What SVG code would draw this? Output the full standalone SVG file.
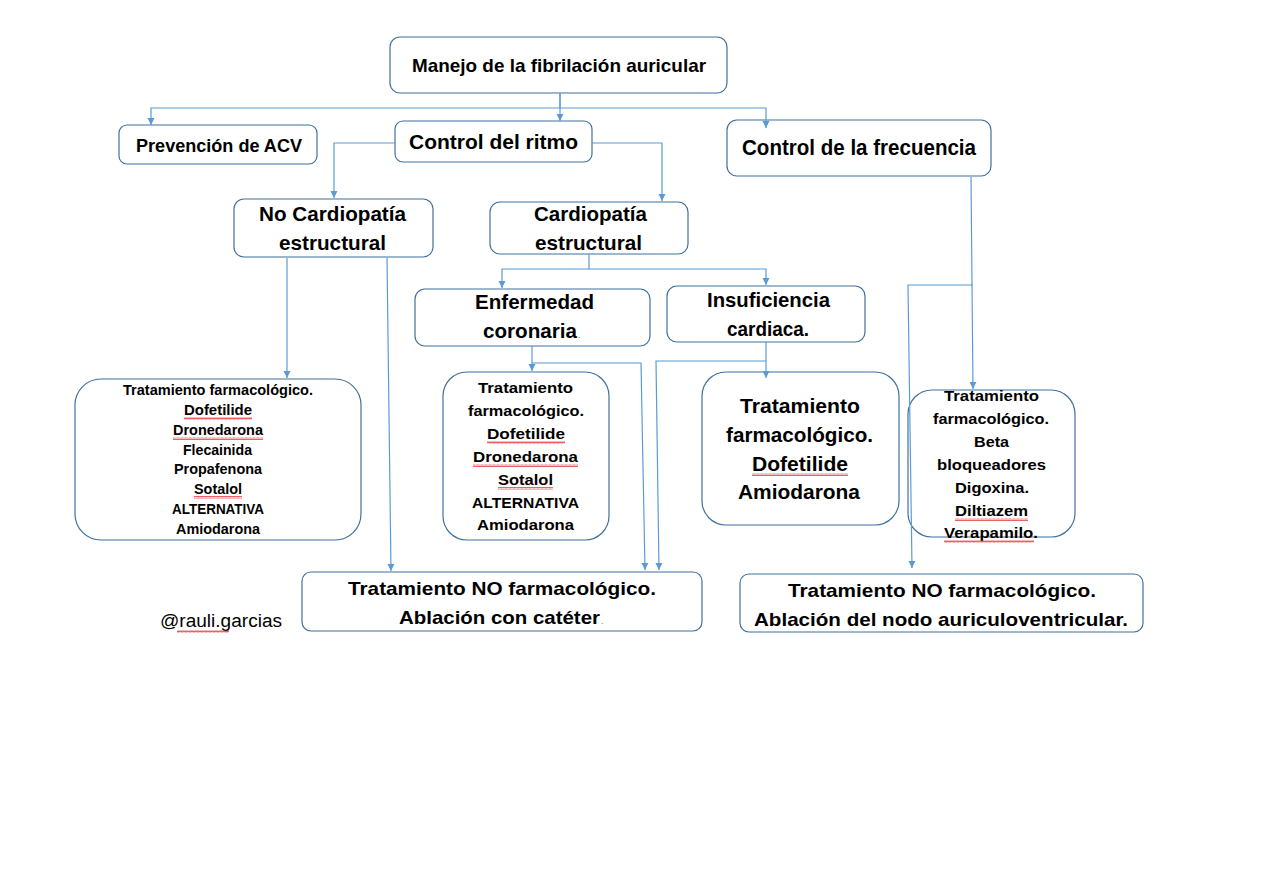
<svg xmlns="http://www.w3.org/2000/svg" width="1274" height="880" viewBox="0 0 1274 880">
<style>
.box{fill:#fff;stroke:#41719C;stroke-width:1.2}
.t{font-family:"Liberation Sans",Arial,sans-serif;font-weight:bold;fill:#000}
.c{fill:none;stroke:#5B9BD5;stroke-width:1.2;marker-end:url(#ah)}
.sq{fill:url(#squig)}
.dot{font-family:"Liberation Sans",Arial,sans-serif;fill:#777;font-size:9px}
</style>
<defs>
<marker id="ah" markerUnits="userSpaceOnUse" markerWidth="8" markerHeight="8" refX="7" refY="4" orient="auto">
<path d="M0,0.5 L7,4 L0,7.5 Z" fill="#5B9BD5"/>
</marker>
<pattern id="squig" patternUnits="userSpaceOnUse" width="4" height="3">
<path d="M0,2.5 L1,0.5 L2,2.5 L3,0.5 L4,2.5" fill="none" stroke="#e02020" stroke-width="0.7"/>
</pattern>
</defs>
<rect width="1274" height="880" fill="#fff"/>

<g id="root">
<rect class="box" x="390" y="37" width="337" height="56" rx="10"/>
<text class="t" font-size="18.5" x="412" y="72" textLength="294" lengthAdjust="spacingAndGlyphs">Manejo de la fibrilación auricular</text>
</g>

<g id="prevencion">
<rect class="box" x="119" y="125" width="198" height="39" rx="8"/>
<text class="t" font-size="19" x="136" y="152" textLength="166" lengthAdjust="spacingAndGlyphs">Prevención de ACV</text>
</g>

<g id="ritmo">
<rect class="box" x="395" y="121" width="197" height="41" rx="8"/>
<text class="t" font-size="21" x="409" y="149" textLength="169" lengthAdjust="spacingAndGlyphs">Control del ritmo</text>
</g>

<g id="frecuencia">
<rect class="box" x="727" y="120" width="264" height="56" rx="10"/>
<text class="t" font-size="21.5" x="742" y="155" textLength="234" lengthAdjust="spacingAndGlyphs">Control de la frecuencia</text>
</g>

<g id="no-cardiopatia">
<rect class="box" x="234" y="199" width="199" height="58" rx="10"/>
<text class="t" font-size="20.5" x="259" y="221" textLength="147" lengthAdjust="spacingAndGlyphs">No Cardiopatía</text>
<text class="t" font-size="20.5" x="279" y="250" textLength="107" lengthAdjust="spacingAndGlyphs">estructural</text>
</g>

<g id="cardiopatia">
<rect class="box" x="490" y="202" width="198" height="52" rx="10"/>
<text class="t" font-size="20.5" x="534" y="221" textLength="113" lengthAdjust="spacingAndGlyphs">Cardiopatía</text>
<text class="t" font-size="20.5" x="535" y="250" textLength="107" lengthAdjust="spacingAndGlyphs">estructural</text>
</g>

<g id="enfermedad">
<rect class="box" x="415" y="289" width="235" height="57" rx="10"/>
<text class="t" font-size="20.5" x="475" y="309" textLength="119" lengthAdjust="spacingAndGlyphs">Enfermedad</text>
<text class="t" font-size="20.5" x="483" y="338" textLength="94" lengthAdjust="spacingAndGlyphs">coronaria</text>
<text class="dot" x="578" y="338">.</text>
</g>

<g id="insuficiencia">
<rect class="box" x="667" y="286" width="198" height="56" rx="10"/>
<text class="t" font-size="20.5" x="707" y="307" textLength="123" lengthAdjust="spacingAndGlyphs">Insuficiencia</text>
<text class="t" font-size="20.5" x="727" y="336" textLength="82" lengthAdjust="spacingAndGlyphs">cardiaca.</text>
</g>

<g id="tto-no-cardiopatia">
<rect class="box" x="75" y="379" width="286" height="161" rx="26"/>
<text class="t" font-size="14" x="123" y="395" textLength="190" lengthAdjust="spacingAndGlyphs">Tratamiento farmacológico.</text>
<text class="t" font-size="14" x="184" y="415" textLength="68" lengthAdjust="spacingAndGlyphs">Dofetilide</text>
<text class="t" font-size="14" x="173" y="435" textLength="90" lengthAdjust="spacingAndGlyphs">Dronedarona</text>
<text class="t" font-size="14" x="183" y="455" textLength="69" lengthAdjust="spacingAndGlyphs">Flecainida</text>
<text class="t" font-size="14" x="174" y="474" textLength="88" lengthAdjust="spacingAndGlyphs">Propafenona</text>
<text class="t" font-size="14" x="194" y="494" textLength="48" lengthAdjust="spacingAndGlyphs">Sotalol</text>
<text class="t" font-size="14" x="172" y="514" textLength="92" lengthAdjust="spacingAndGlyphs">ALTERNATIVA</text>
<text class="t" font-size="14" x="176" y="534" textLength="84" lengthAdjust="spacingAndGlyphs">Amiodarona</text>
<rect class="sq" x="184" y="417" width="68" height="3"/>
<rect class="sq" x="173" y="437" width="90" height="3"/>
<rect class="sq" x="194" y="496" width="48" height="3"/>
</g>

<g id="tto-coronaria">
<rect class="box" x="443" y="372" width="166" height="168" rx="24"/>
<text class="t" font-size="15" x="478" y="393" textLength="95" lengthAdjust="spacingAndGlyphs">Tratamiento</text>
<text class="t" font-size="15" x="468" y="416" textLength="116" lengthAdjust="spacingAndGlyphs">farmacológico.</text>
<text class="t" font-size="15" x="487" y="439" textLength="78" lengthAdjust="spacingAndGlyphs">Dofetilide</text>
<text class="t" font-size="15" x="473" y="462" textLength="105" lengthAdjust="spacingAndGlyphs">Dronedarona</text>
<text class="t" font-size="15" x="498" y="485" textLength="55" lengthAdjust="spacingAndGlyphs">Sotalol</text>
<text class="t" font-size="15" x="472" y="508" textLength="107" lengthAdjust="spacingAndGlyphs">ALTERNATIVA</text>
<text class="t" font-size="15" x="477" y="530" textLength="97" lengthAdjust="spacingAndGlyphs">Amiodarona</text>
<rect class="sq" x="487" y="441" width="78" height="3"/>
<rect class="sq" x="473" y="464" width="105" height="3"/>
<rect class="sq" x="498" y="487" width="55" height="3"/>
</g>

<g id="tto-insuficiencia">
<rect class="box" x="702" y="372" width="197" height="153" rx="24"/>
<text class="t" font-size="20" x="740" y="413" textLength="120" lengthAdjust="spacingAndGlyphs">Tratamiento</text>
<text class="t" font-size="20" x="726" y="442" textLength="147" lengthAdjust="spacingAndGlyphs">farmacológico.</text>
<text class="t" font-size="20" x="752" y="471" textLength="96" lengthAdjust="spacingAndGlyphs">Dofetilide</text>
<text class="t" font-size="20" x="738" y="499" textLength="122" lengthAdjust="spacingAndGlyphs">Amiodarona</text>
<rect class="sq" x="752" y="473" width="96" height="3"/>
</g>

<g id="tto-frecuencia">
<rect class="box" x="908" y="390" width="167" height="147" rx="24"/>
<text class="t" font-size="15" x="944" y="401" textLength="95" lengthAdjust="spacingAndGlyphs">Tratamiento</text>
<text class="t" font-size="15" x="933" y="424" textLength="116" lengthAdjust="spacingAndGlyphs">farmacológico.</text>
<text class="t" font-size="15" x="974" y="447" textLength="35" lengthAdjust="spacingAndGlyphs">Beta</text>
<text class="t" font-size="15" x="937" y="470" textLength="109" lengthAdjust="spacingAndGlyphs">bloqueadores</text>
<text class="t" font-size="15" x="955" y="493" textLength="74" lengthAdjust="spacingAndGlyphs">Digoxina.</text>
<text class="t" font-size="15" x="955" y="516" textLength="73" lengthAdjust="spacingAndGlyphs">Diltiazem</text>
<text class="t" font-size="15" x="944" y="538" textLength="94" lengthAdjust="spacingAndGlyphs">Verapamilo.</text>
<rect class="sq" x="955" y="518" width="73" height="3"/>
<rect class="sq" x="944" y="540" width="90" height="3"/>
</g>

<g id="no-farm-cateter">
<rect class="box" x="302" y="572" width="400" height="59" rx="9"/>
<text class="t" font-size="19" x="348" y="595" textLength="308" lengthAdjust="spacingAndGlyphs">Tratamiento NO farmacológico.</text>
<text class="t" font-size="19" x="399" y="624" textLength="201" lengthAdjust="spacingAndGlyphs">Ablación con catéter</text>
<text class="dot" x="601" y="624">.</text>
</g>

<g id="no-farm-nodo">
<rect class="box" x="740" y="574" width="403" height="58" rx="9"/>
<text class="t" font-size="19" x="788" y="597" textLength="308" lengthAdjust="spacingAndGlyphs">Tratamiento NO farmacológico.</text>
<text class="t" font-size="19" x="754" y="626" textLength="374" lengthAdjust="spacingAndGlyphs">Ablación del nodo auriculoventricular.</text>
</g>

<g id="autor">
<text font-family="'Liberation Sans',Arial,sans-serif" font-size="18" fill="#000" x="160" y="627" textLength="122" lengthAdjust="spacingAndGlyphs">@rauli.garcias</text>
<rect class="sq" x="177" y="630" width="52" height="3"/>
</g>

<g id="connectors">
<path class="c" d="M560 93 V108 H151 V125"/>
<path class="c" d="M560 93 V121"/>
<path class="c" d="M560 108 H766 V128"/>
<path class="c" d="M395 143 H334 V198"/>
<path class="c" d="M592 143 H662 V201"/>
<path class="c" d="M287 258 V378"/>
<path class="c" d="M387 258 L391 571"/>
<path class="c" d="M589 254 V269 H502 V288"/>
<path class="c" d="M589 269 H766 V285"/>
<path class="c" d="M532 346 V371"/>
<path class="c" d="M532 363 H641 L645 570"/>
<path class="c" d="M766 342 V378"/>
<path class="c" d="M766 361 H656 L659 570"/>
<path class="c" d="M971 177 L973 389"/>
<path class="c" d="M973 285 H908 L912 568"/>
</g>
</svg>
